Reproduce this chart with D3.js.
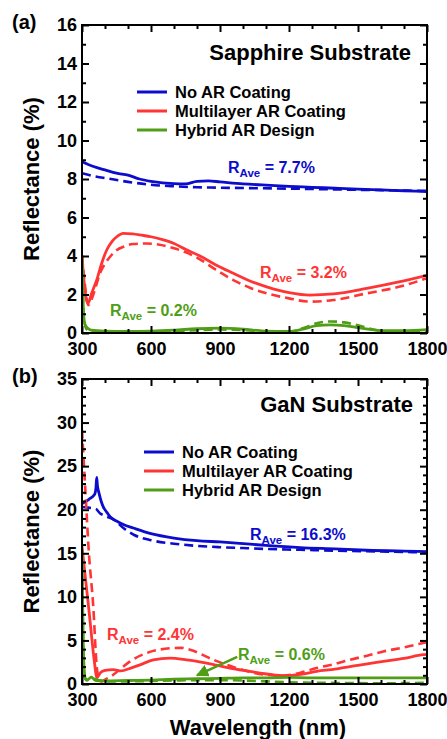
<!DOCTYPE html>
<html><head><meta charset="utf-8">
<script src="https://cdn.jsdelivr.net/npm/d3@7"></script>
<style>
html,body{margin:0;padding:0;background:#fff;}
svg{display:block;font-family:"Liberation Sans",Arial,sans-serif;font-weight:bold;}
</style></head>
<body>
<svg id="chart" width="447" height="739"></svg>
<script>
// ---------- DATA ----------
const xTicksMajor = [300, 600, 900, 1200, 1500, 1800];
const xTicksMinor = [400, 500, 700, 800, 1000, 1100, 1300, 1400, 1600, 1700];
const yTicksA = [0, 2, 4, 6, 8, 10, 12, 14, 16];
const yTicksB = [0, 5, 10, 15, 20, 25, 30, 35];
const seriesNames = ["No AR Coating", "Multilayer AR Coating", "Hybrid AR Design"];
const seriesColors = ["#0c0ccc", "#ff3535", "#4f9e16"];

// Panel (a) Sapphire
const aNoARMeasX = [300,350,400,450,500,550,600,700,750,800,850,900,1000,1100,1200,1300,1400,1500,1600,1700,1800];
const aNoARMeasY = [8.9,8.65,8.47,8.3,8.2,8.0,7.88,7.76,7.75,7.88,7.9,7.85,7.75,7.68,7.62,7.57,7.52,7.47,7.43,7.39,7.35];
const aNoARSimX = [300,350,400,500,600,700,800,900,1000,1200,1400,1600,1800];
const aNoARSimY = [8.3,8.15,8.05,7.85,7.7,7.62,7.57,7.55,7.53,7.5,7.46,7.42,7.38];
const aMultiMeasX = [300,305,312,320,327,340,364,385,407,430,451,480,520,560,600,650,700,750,813,880,958,1030,1103,1200,1290,1393,1538,1683,1800];
const aMultiMeasY = [4.05,3.2,2.3,1.7,1.55,2.0,2.75,3.6,4.3,4.75,5.0,5.18,5.15,5.08,5.0,4.85,4.65,4.35,4.0,3.55,3.1,2.7,2.4,2.1,1.97,2.03,2.32,2.67,3.0];
const aMultiSimX = [300,310,320,327,340,360,378,400,422,450,480,520,580,632,700,760,813,880,958,1030,1103,1200,1290,1393,1538,1683,1800];
const aMultiSimY = [4.0,2.8,1.8,1.45,1.7,2.4,3.1,3.6,3.96,4.3,4.48,4.62,4.65,4.6,4.4,4.15,3.83,3.3,2.75,2.35,2.06,1.8,1.63,1.71,2.06,2.41,2.85];
const aHybridMeasX = [300,303,306,310,315,325,340,400,500,600,700,800,900,1000,1100,1200,1260,1320,1380,1440,1500,1560,1620,1700,1800];
const aHybridMeasY = [3.9,2.5,1.2,0.6,0.4,0.25,0.15,0.1,0.08,0.1,0.15,0.22,0.25,0.2,0.1,0.08,0.2,0.38,0.42,0.38,0.28,0.18,0.12,0.12,0.18];
const aHybridSimX = [300,305,310,320,340,400,500,600,700,800,900,1000,1100,1200,1260,1320,1380,1440,1500,1560,1620,1700,1800];
const aHybridSimY = [3.5,1.5,0.6,0.2,0.05,0.02,0.02,0.05,0.1,0.15,0.18,0.15,0.08,0.05,0.25,0.5,0.6,0.55,0.4,0.2,0.08,0.05,0.1];

// Panel (b) GaN
const bNoARMeasX = [300,320,335,350,357,361,364,367,374,383,393,408,422,450,480,523,600,700,800,900,957,1100,1248,1400,1538,1700,1800];
const bNoARMeasY = [20.7,21.0,21.3,21.6,21.9,22.6,23.7,22.8,21.9,21.0,20.3,19.7,19.2,18.7,18.3,17.9,17.25,16.75,16.45,16.3,16.2,15.9,15.65,15.5,15.35,15.25,15.2];
const bNoARSimX = [300,320,340,360,378,400,436,480,527,600,700,800,900,1000,1100,1248,1400,1600,1800];
const bNoARSimY = [20.3,20.25,20.2,20.1,19.6,19.3,18.9,17.9,17.1,16.5,16.1,15.85,15.7,15.6,15.5,15.4,15.3,15.2,15.1];
const bMultiMeasX = [300,330,355,364,380,400,436,470,509,552,610,683,755,842,943,1030,1074,1175,1250,1320,1400,1465,1540,1610,1700,1784,1800];
const bMultiMeasY = [15.8,8.5,2.3,0.7,1.3,1.55,1.64,1.5,1.8,2.2,2.78,2.98,2.78,2.4,1.83,1.45,1.26,0.95,1.1,1.45,1.7,2.0,2.3,2.6,2.95,3.36,3.4];
const bMultiSimX = [300,315,330,349,364,375,385,400,436,470,509,581,683,730,770,871,929,1000,1100,1175,1250,1320,1400,1465,1540,1610,1700,1784,1800];
const bMultiSimY = [29.2,22,15,8.9,2.0,0.5,0.3,0.5,1.06,1.8,2.6,3.55,4.1,4.15,3.93,2.78,2.2,1.6,1.05,0.95,1.3,1.83,2.3,2.78,3.25,3.73,4.2,4.7,4.78];
const bHybridMeasX = [300,303,306,310,315,325,340,360,400,500,600,700,800,900,1000,1100,1200,1300,1400,1500,1600,1700,1800];
const bHybridMeasY = [15.5,9,4,1.5,0.6,0.5,0.8,0.4,0.35,0.4,0.45,0.55,0.6,0.65,0.7,0.7,0.75,0.7,0.7,0.7,0.7,0.7,0.7];
const bHybridSimX = [300,303,306,310,320,340,400,500,600,700,800,900,1000,1100,1200,1300,1400,1500,1600,1700,1800];
const bHybridSimY = [14,8,3,1,0.4,0.6,0.3,0.3,0.35,0.4,0.45,0.45,0.4,0.3,0.2,0.15,0.12,0.1,0.08,0.1,0.15];

const aAverages = ["7.7%", "3.2%", "0.2%"];
const bAverages = ["16.3%", "2.4%", "0.6%"];
const bArrowFrom = [975, 3.1];
const bArrowTo = [800, 1.0];

// ---------- DRAW ----------
const svg = d3.select("#chart");
const defs = svg.append("defs");
defs.append("marker").attr("id","arrowG").attr("viewBox","0 0 10 10")
  .attr("refX",9).attr("refY",5).attr("markerWidth",5).attr("markerHeight",5)
  .attr("markerUnits","strokeWidth").attr("orient","auto")
  .append("path").attr("d","M0,0 L10,5 L0,10 z").attr("fill",seriesColors[2]);

function panel(cfg){
  const x = d3.scaleLinear([300,1800],[82,427]);
  const y = d3.scaleLinear([0,cfg.ymax],[cfg.bottom,cfg.top]);
  const g = svg.append("g");
  const clipId = "clip" + cfg.id;
  defs.append("clipPath").attr("id",clipId).append("rect")
    .attr("x",82).attr("y",cfg.top).attr("width",345).attr("height",cfg.bottom-cfg.top);

  const line = d3.line().x(d=>x(d[0])).y(d=>y(d[1])).curve(d3.curveMonotoneX);
  const lg = g.append("g").attr("clip-path",`url(#${clipId})`);
  cfg.series.forEach((s,i)=>{
    const pts = s.xs.map((v,k)=>[v,s.ys[k]]);
    lg.append("path").datum(pts).attr("d",line).attr("fill","none")
      .attr("stroke",s.color).attr("stroke-width",s.dashed?2.6:2.8)
      .attr("stroke-dasharray",s.dashed?"9,5":null)
      .attr("stroke-linejoin","round");
  });

  function styleAxis(sel){
    sel.select(".domain").remove();
    sel.selectAll("line").attr("stroke","#000").attr("stroke-width",2);
    sel.selectAll("text").attr("fill","#000").attr("font-size",18)
      .attr("font-family","'Liberation Sans',Arial,sans-serif").attr("font-weight","bold");
  }
  const yMinor = d3.range(0,cfg.ymax+1,1).filter(v=>!cfg.yMajor.includes(v));
  // bottom
  g.append("g").attr("transform",`translate(0,${cfg.bottom})`)
    .call(d3.axisBottom(x).tickValues(xTicksMajor).tickSize(-7).tickPadding(9).tickFormat(d3.format("d"))).call(styleAxis);
  g.append("g").attr("transform",`translate(0,${cfg.bottom})`)
    .call(d3.axisBottom(x).tickValues(xTicksMinor).tickSize(-4).tickFormat("")).call(styleAxis);
  // top
  g.append("g").attr("transform",`translate(0,${cfg.top})`)
    .call(d3.axisTop(x).tickValues(xTicksMajor).tickSize(-7).tickFormat("")).call(styleAxis);
  g.append("g").attr("transform",`translate(0,${cfg.top})`)
    .call(d3.axisTop(x).tickValues(xTicksMinor).tickSize(-4).tickFormat("")).call(styleAxis);
  // left
  g.append("g").attr("transform",`translate(82,0)`)
    .call(d3.axisLeft(y).tickValues(cfg.yMajor).tickSize(-7).tickPadding(5).tickFormat(d3.format("d"))).call(styleAxis);
  g.append("g").attr("transform",`translate(82,0)`)
    .call(d3.axisLeft(y).tickValues(yMinor).tickSize(-4).tickFormat("")).call(styleAxis);
  // right
  g.append("g").attr("transform",`translate(427,0)`)
    .call(d3.axisRight(y).tickValues(cfg.yMajor).tickSize(-7).tickFormat("")).call(styleAxis);
  g.append("g").attr("transform",`translate(427,0)`)
    .call(d3.axisRight(y).tickValues(yMinor).tickSize(-4).tickFormat("")).call(styleAxis);

  g.append("rect").attr("x",82).attr("y",cfg.top).attr("width",345).attr("height",cfg.bottom-cfg.top)
    .attr("fill","none").attr("stroke","#000").attr("stroke-width",2);

  // panel letter
  g.append("text").attr("x",12).attr("y",cfg.top+4).attr("font-size",20).text(cfg.letter);
  // title
  g.append("text").attr("x",cfg.titleX).attr("y",cfg.top+cfg.titleDy).attr("text-anchor","end")
    .attr("font-size",22).text(cfg.title);
  // y title
  g.append("text").attr("transform",`translate(39,${(cfg.top+cfg.bottom)/2}) rotate(-90)`)
    .attr("text-anchor","middle").attr("font-size",22).text("Reflectance (%)");

  // legend
  seriesNames.forEach((n,i)=>{
    const ly = cfg.legY + i*19;
    g.append("line").attr("x1",cfg.legX).attr("x2",cfg.legX+30).attr("y1",ly).attr("y2",ly)
      .attr("stroke",seriesColors[i]).attr("stroke-width",3);
    g.append("text").attr("x",cfg.legX+38).attr("y",ly+6).attr("font-size",16.5).text(n);
  });

  // averages
  cfg.avgs.forEach((a,i)=>{
    const t = g.append("text").attr("x",a.x).attr("y",a.y).attr("fill",seriesColors[i]).attr("font-size",16);
    t.append("tspan").text("R");
    t.append("tspan").attr("font-size",11.5).attr("dy",4).text("Ave");
    t.append("tspan").attr("dy",-4).text(" = " + a.v);
  });
  return {x,y,g};
}

const pa = panel({
  id:"a", letter:"(a)", title:"Sapphire Substrate", titleX:411, titleDy:35,
  top:25, bottom:333, ymax:16, yMajor:yTicksA, legX:137, legY:92,
  series:[
    {xs:aNoARMeasX, ys:aNoARMeasY, color:seriesColors[0]},
    {xs:aNoARSimX, ys:aNoARSimY, color:seriesColors[0], dashed:true},
    {xs:aMultiMeasX, ys:aMultiMeasY, color:seriesColors[1]},
    {xs:aMultiSimX, ys:aMultiSimY, color:seriesColors[1], dashed:true},
    {xs:aHybridMeasX, ys:aHybridMeasY, color:seriesColors[2]},
    {xs:aHybridSimX, ys:aHybridSimY, color:seriesColors[2], dashed:true}
  ],
  avgs:[{x:228,y:173,v:aAverages[0]},{x:260,y:278,v:aAverages[1]},{x:110,y:316,v:aAverages[2]}]
});

const pb = panel({
  id:"b", letter:"(b)", title:"GaN Substrate", titleX:413, titleDy:33,
  top:379, bottom:684, ymax:35, yMajor:yTicksB, legX:144, legY:452,
  series:[
    {xs:bNoARMeasX, ys:bNoARMeasY, color:seriesColors[0]},
    {xs:bNoARSimX, ys:bNoARSimY, color:seriesColors[0], dashed:true},
    {xs:bMultiMeasX, ys:bMultiMeasY, color:seriesColors[1]},
    {xs:bMultiSimX, ys:bMultiSimY, color:seriesColors[1], dashed:true},
    {xs:bHybridMeasX, ys:bHybridMeasY, color:seriesColors[2]},
    {xs:bHybridSimX, ys:bHybridSimY, color:seriesColors[2], dashed:true}
  ],
  avgs:[{x:250,y:540,v:bAverages[0]},{x:107,y:640,v:bAverages[1]},{x:238,y:660,v:bAverages[2]}]
});

pb.g.append("line")
  .attr("x1",pb.x(bArrowFrom[0])).attr("y1",pb.y(bArrowFrom[1]))
  .attr("x2",pb.x(bArrowTo[0])).attr("y2",pb.y(bArrowTo[1]))
  .attr("stroke",seriesColors[2]).attr("stroke-width",2.5).attr("marker-end","url(#arrowG)");

svg.append("text").attr("x",258).attr("y",735).attr("text-anchor","middle")
  .attr("font-size",22).text("Wavelength (nm)");
</script>
</body></html>
